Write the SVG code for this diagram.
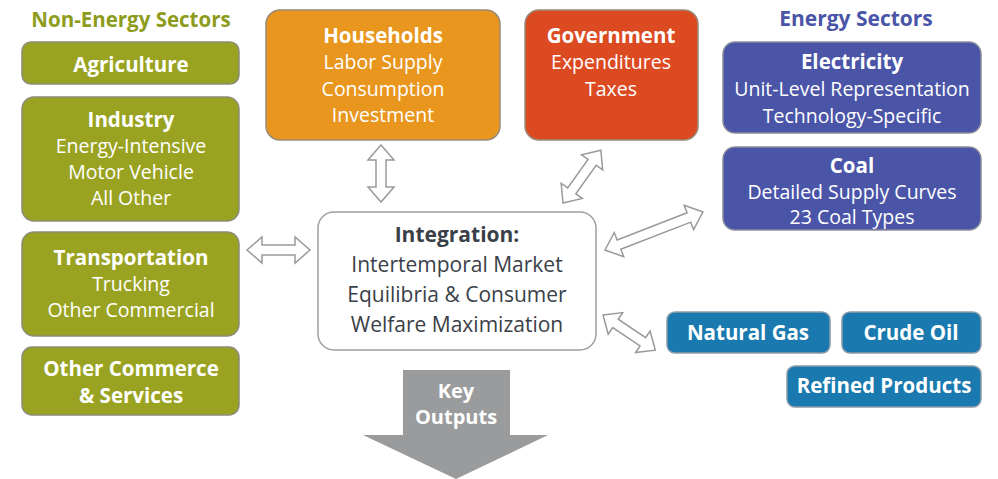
<svg xmlns="http://www.w3.org/2000/svg" width="998" height="479" viewBox="0 0 998 479">
<style>
text{font-family:"Open Sans","Liberation Sans",sans-serif;text-anchor:middle}
.b{font-weight:700}
.w{fill:#ffffff}
.t{font-size:20.5px}
.s{font-size:19.5px}
.i{font-size:21px;fill:#3a4048}
.olive{fill:#9aa321;stroke:#8c8c7a;stroke-width:1.5}
.conn{fill:#ffffff;stroke:#9a9a9a;stroke-width:1.5;stroke-linejoin:miter}
</style>
<rect width="998" height="479" fill="#ffffff"/>
<text x="131" y="27" class="b t" fill="#8e9c1d">Non-Energy Sectors</text>
<text x="856" y="26" class="b" font-size="21" fill="#4a55a8">Energy Sectors</text>
<g id="agriculture"><rect x="22" y="42" width="217" height="42" rx="9" class="olive"/><text x="131" y="72" class="b t w">Agriculture</text></g>
<g id="industry"><rect x="22" y="97" width="217" height="124" rx="12" class="olive"/><text x="131" y="127" class="b t w">Industry</text><text x="131" y="153" class="s w">Energy-Intensive</text><text x="131" y="179" class="s w">Motor Vehicle</text><text x="131" y="205" class="s w">All Other</text></g>
<g id="transportation"><rect x="22" y="232" width="217" height="104" rx="12" class="olive"/><text x="131" y="265" class="b t w">Transportation</text><text x="131" y="291" class="s w">Trucking</text><text x="131" y="317" class="s w">Other Commercial</text></g>
<g id="commerce"><rect x="22" y="347" width="217" height="68" rx="10" class="olive"/><text x="131" y="376" class="b t w">Other Commerce</text><text x="131" y="403" class="b t w">&amp; Services</text></g>
<g id="households"><rect x="266" y="10" width="234" height="130" rx="14" fill="#e8961e" stroke="#9a8a7a" stroke-width="1.5"/><text x="383" y="43" class="b t w">Households</text><text x="383" y="69" class="s w">Labor Supply</text><text x="383" y="96" class="s w">Consumption</text><text x="383" y="122" class="s w">Investment</text></g>
<g id="government"><rect x="525" y="10" width="173" height="130" rx="14" fill="#dc4a22" stroke="#9a8a7a" stroke-width="1.5"/><text x="611" y="43" class="b t w">Government</text><text x="611" y="69" class="s w">Expenditures</text><text x="611" y="96" class="s w">Taxes</text></g>
<g id="electricity"><rect x="723" y="42" width="258" height="91" rx="12" fill="#4a55a8" stroke="#8a8aa0" stroke-width="1.5"/><text x="852" y="69" class="b t w">Electricity</text><text x="852" y="96" class="s w">Unit-Level Representation</text><text x="852" y="123" class="s w">Technology-Specific</text></g>
<g id="coal"><rect x="723" y="147" width="258" height="83" rx="12" fill="#4a55a8" stroke="#8a8aa0" stroke-width="1.5"/><text x="852" y="173" class="b t w">Coal</text><text x="852" y="199" class="s w">Detailed Supply Curves</text><text x="852" y="224" class="s w">23 Coal Types</text></g>
<g id="integration"><rect x="318" y="212" width="278" height="138" rx="16" fill="#ffffff" stroke="#a0a0a0" stroke-width="1.5"/><text x="457" y="242" class="b i">Integration:</text><text x="457" y="272" class="i">Intertemporal Market</text><text x="457" y="302" class="i">Equilibria &amp; Consumer</text><text x="457" y="332" class="i">Welfare Maximization</text></g>
<g id="naturalgas"><rect x="667" y="312" width="163" height="41" rx="8" fill="#1a7ab0" stroke="#8a9aa8" stroke-width="1.5"/><text x="748" y="340" class="b t w">Natural Gas</text></g>
<g id="crudeoil"><rect x="842" y="312" width="139" height="41" rx="8" fill="#1a7ab0" stroke="#8a9aa8" stroke-width="1.5"/><text x="911" y="340" class="b t w">Crude Oil</text></g>
<g id="refined"><rect x="787" y="366" width="194" height="41" rx="8" fill="#1a7ab0" stroke="#8a9aa8" stroke-width="1.5"/><text x="884" y="393" class="b t w">Refined Products</text></g>
<g id="keyoutputs"><polygon points="403,370 510,370 510,435 548,435 456,479 363,435 403,435" fill="#9a9b9d"/><text x="456" y="398" class="b w" font-size="20">Key</text><text x="456" y="424" class="b w" font-size="20">Outputs</text></g>
<g id="connectors">
<polygon class="conn" transform="translate(247,250)" points="0,0 15,-13 15,-5 48,-5 48,-13 63,0 48,13 48,5 15,5 15,13"/>
<polygon class="conn" transform="translate(381,145) rotate(90)" points="0,0 15,-13 15,-5 42,-5 42,-13 57,0 42,13 42,5 15,5 15,13"/>
<polygon class="conn" transform="translate(563,203) rotate(-54.4)" points="0,0 15,-13 15,-5 50,-5 50,-13 65,0 50,13 50,5 15,5 15,13"/>
<polygon class="conn" transform="translate(605,250) rotate(-21.2)" points="0,0 15,-13 15,-5 90,-5 90,-13 105,0 90,13 90,5 15,5 15,13"/>
<polygon class="conn" transform="translate(603,315) rotate(33.9)" points="0,0 15,-13 15,-5 48,-5 48,-13 63,0 48,13 48,5 15,5 15,13"/>
</g>
</svg>
